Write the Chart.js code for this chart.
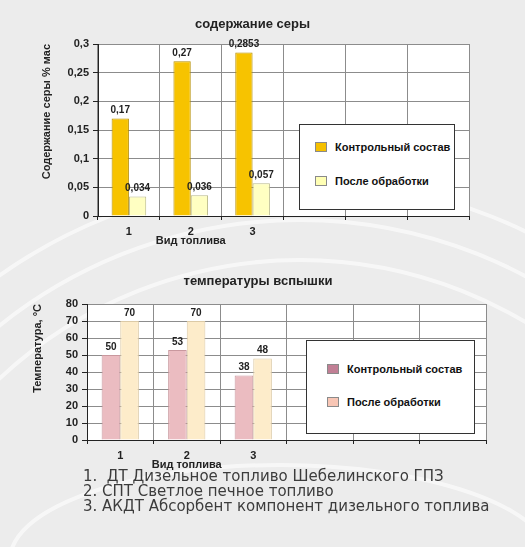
<!DOCTYPE html>
<html>
<head>
<meta charset="utf-8">
<script src="https://cdn.jsdelivr.net/npm/chart.js@4/dist/chart.umd.min.js"></script>
<style>
html,body{margin:0;padding:0;}
body{width:525px;height:547px;background:#ececec;position:relative;overflow:hidden;font-family:"Liberation Sans",Arial,sans-serif;}
svg.bg{position:absolute;left:0;top:0;}
canvas{position:absolute;left:0;}
#c1{top:0;}
#c2{top:258px;}
.legend{position:absolute;background:#fff;border:1.5px solid #333;box-sizing:border-box;}
.li{position:absolute;height:12px;line-height:12px;font:bold 11px "Liberation Sans",Arial,sans-serif;color:#111;white-space:nowrap;}
.sw{position:absolute;width:12px;height:10px;box-sizing:border-box;border:1px solid #8a8a8a;}
.notes{position:absolute;left:83px;top:469px;font:15px "DejaVu Sans",sans-serif;color:#3c3c3c;}
.notes div{height:15px;line-height:15px;white-space:nowrap;}
</style>
</head>
<body>
<svg class="bg" width="525" height="547" viewBox="0 0 525 547">
  <g fill="none" stroke="#ffffff" stroke-opacity="0.6" stroke-width="4">
    <circle cx="300" cy="700" r="440"/>
    <circle cx="300" cy="700" r="480"/>
    <circle cx="300" cy="700" r="520"/>
    <ellipse cx="280" cy="560" rx="270" ry="95"/>
  </g>
</svg>
<canvas id="c1" width="525" height="258"></canvas>
<canvas id="c2" width="525" height="217"></canvas>
<div class="legend" id="lg1" style="left:299px;top:124px;width:156px;height:86px;"></div>
<div class="legend" id="lg2" style="left:306px;top:340px;width:169px;height:94px;"></div>
<div class="notes">
  <div>1.&nbsp; ДТ Дизельное топливо Шебелинского ГПЗ</div>
  <div>2. СПТ Светлое печное топливо</div>
  <div>3. АКДТ Абсорбент компонент дизельного топлива</div>
</div>
<script>
// ---- data ----
const categories = ['1', '2', '3', '', '', ''];
const seriesNames = ['Контрольный состав', 'После обработки'];
const sulfurControl = [0.17, 0.27, 0.2853, null, null, null];
const sulfurTreated = [0.034, 0.036, 0.057, null, null, null];
const flashControl = [50, 53, 38, null, null, null];
const flashTreated = [70, 70, 48, null, null, null];
const sulfurTitle = 'содержание серы';
const flashTitle = 'температуры вспышки';
const sulfurYTitle = 'Содержание серы % мас';
const flashYTitle = 'Температура, °С';
const xTitle = 'Вид топлива';

const FONT = '"Liberation Sans", Arial, sans-serif';
const GRID = '#8c8c8c';
const INK = '#222';

const plotBg = {
  id: 'plotBg',
  beforeDraw(chart) {
    const {ctx, chartArea: a} = chart;
    ctx.save();
    ctx.fillStyle = '#fff';
    ctx.fillRect(a.left, a.top, a.right - a.left, a.bottom - a.top);
    ctx.restore();
  }
};

const valueLabels = {
  id: 'valueLabels',
  afterDatasetsDraw(chart, args, opts) {
    const ctx = chart.ctx;
    ctx.save();
    ctx.font = 'bold 10px ' + FONT;
    ctx.fillStyle = INK;
    ctx.textAlign = 'center';
    ctx.textBaseline = 'bottom';
    chart.data.datasets.forEach((ds, i) => {
      chart.getDatasetMeta(i).data.forEach((el, j) => {
        const v = ds.data[j];
        if (v == null) return;
        ctx.fillText(opts.format(v), el.x, el.y - 3);
      });
    });
    ctx.restore();
  }
};

const xAxisTitle = {
  id: 'xAxisTitle',
  afterDraw(chart, args, opts) {
    const ctx = chart.ctx;
    const xs = chart.scales.x;
    const x = (xs.getPixelForValue(0) + xs.getPixelForValue(2)) / 2;
    ctx.save();
    ctx.font = 'bold 11px ' + FONT;
    ctx.fillStyle = INK;
    ctx.textAlign = 'center';
    ctx.textBaseline = 'middle';
    ctx.fillText(opts.text, x, opts.y);
    ctx.restore();
  }
};

function makeChart(id, cfg) {
  return new Chart(document.getElementById(id), {
    type: 'bar',
    data: {
      labels: categories,
      datasets: [
        {label: seriesNames[0], data: cfg.a, backgroundColor: cfg.colors[0], borderColor: cfg.borders[0], borderWidth: 1},
        {label: seriesNames[1], data: cfg.b, backgroundColor: cfg.colors[1], borderColor: cfg.borders[1], borderWidth: 1}
      ]
    },
    options: {
      responsive: false,
      animation: false,
      devicePixelRatio: 1,
      datasets: {bar: {categoryPercentage: 0.56, barPercentage: 1.0}},
      layout: {padding: cfg.pad},
      plugins: {
        legend: {display: false},
        tooltip: {enabled: false},
        title: {display: true, text: cfg.title, color: INK, font: {family: FONT, size: 13, weight: 'bold'}, padding: cfg.titlePad},
        valueLabels: {format: cfg.fmt},
        xAxisTitle: {text: xTitle, y: cfg.xTitleY}
      },
      scales: {
        x: {
          grid: {offset: true, color: GRID, tickColor: INK, tickLength: 4, lineWidth: 1},
          border: {color: INK, width: 1},
          ticks: {color: INK, font: {family: FONT, size: 11, weight: 'bold'}, padding: 5, maxRotation: 0, autoSkip: false},
          afterFit(s) { s.height = cfg.xH; }
        },
        y: {
          min: cfg.min, max: cfg.max,
          grid: {color: GRID, tickColor: INK, tickLength: 5, lineWidth: 1},
          border: {color: INK, width: 1},
          ticks: {stepSize: cfg.step, color: INK, font: {family: FONT, size: 11, weight: 'bold'}, padding: 4, callback: cfg.tickFmt},
          title: {display: true, text: cfg.yTitle, color: INK, align: 'end', font: {family: FONT, size: 11, weight: 'bold'}, padding: {top: cfg.yTitlePad, bottom: 0}},
          afterFit(s) { s.width = cfg.yW; }
        }
      }
    },
    plugins: [plotBg, valueLabels, xAxisTitle]
  });
}

const comma = v => String(Math.round(v * 10000) / 10000).replace('.', ',');

const chart1 = makeChart('c1', {
  a: sulfurControl, b: sulfurTreated,
  colors: ['#f7c300', '#ffffc2'], borders: ['#b58e00', '#b9b98a'],
  title: sulfurTitle, titlePad: {top: 16.2, bottom: 12.2},
  pad: {left: 36, right: 56, top: 0, bottom: 0},
  yW: 62, xH: 42, min: 0, max: 0.3, step: 0.05,
  tickFmt: v => comma(v), fmt: comma,
  yTitle: sulfurYTitle, yTitlePad: 4.4, xTitleY: 241
});

const chart2 = makeChart('c2', {
  a: flashControl, b: flashTreated,
  colors: ['#ebbcc1', '#fdecca'], borders: ['#c9989e', '#dccaa6'],
  title: flashTitle, titlePad: {top: 15.2, bottom: 15.2},
  pad: {left: 30, right: 39, top: 0, bottom: 0},
  yW: 57, xH: 35, min: 0, max: 80, step: 10,
  tickFmt: v => String(v), fmt: v => String(v),
  yTitle: flashYTitle, yTitlePad: 1.4, xTitleY: 207
});

function buildLegend(elId, chart, swatches, g) {
  const box = document.getElementById(elId);
  chart.data.datasets.forEach((ds, i) => {
    const sw = document.createElement('div');
    sw.className = 'sw';
    sw.style.left = g.swX + 'px';
    sw.style.top = (g.rows[i] - 5) + 'px';
    sw.style.background = swatches[i];
    box.appendChild(sw);
    const t = document.createElement('div');
    t.className = 'li';
    t.style.left = g.txX + 'px';
    t.style.top = (g.rows[i] - 6) + 'px';
    t.textContent = ds.label;
    box.appendChild(t);
  });
}
buildLegend('lg1', chart1, ['#f5c000', '#ffffb4'], {swX: 15, txX: 35, rows: [22, 56]});
buildLegend('lg2', chart2, ['#c17f95', '#f8c6b5'], {swX: 20, txX: 40, rows: [28, 61]});
</script>
</body>
</html>
